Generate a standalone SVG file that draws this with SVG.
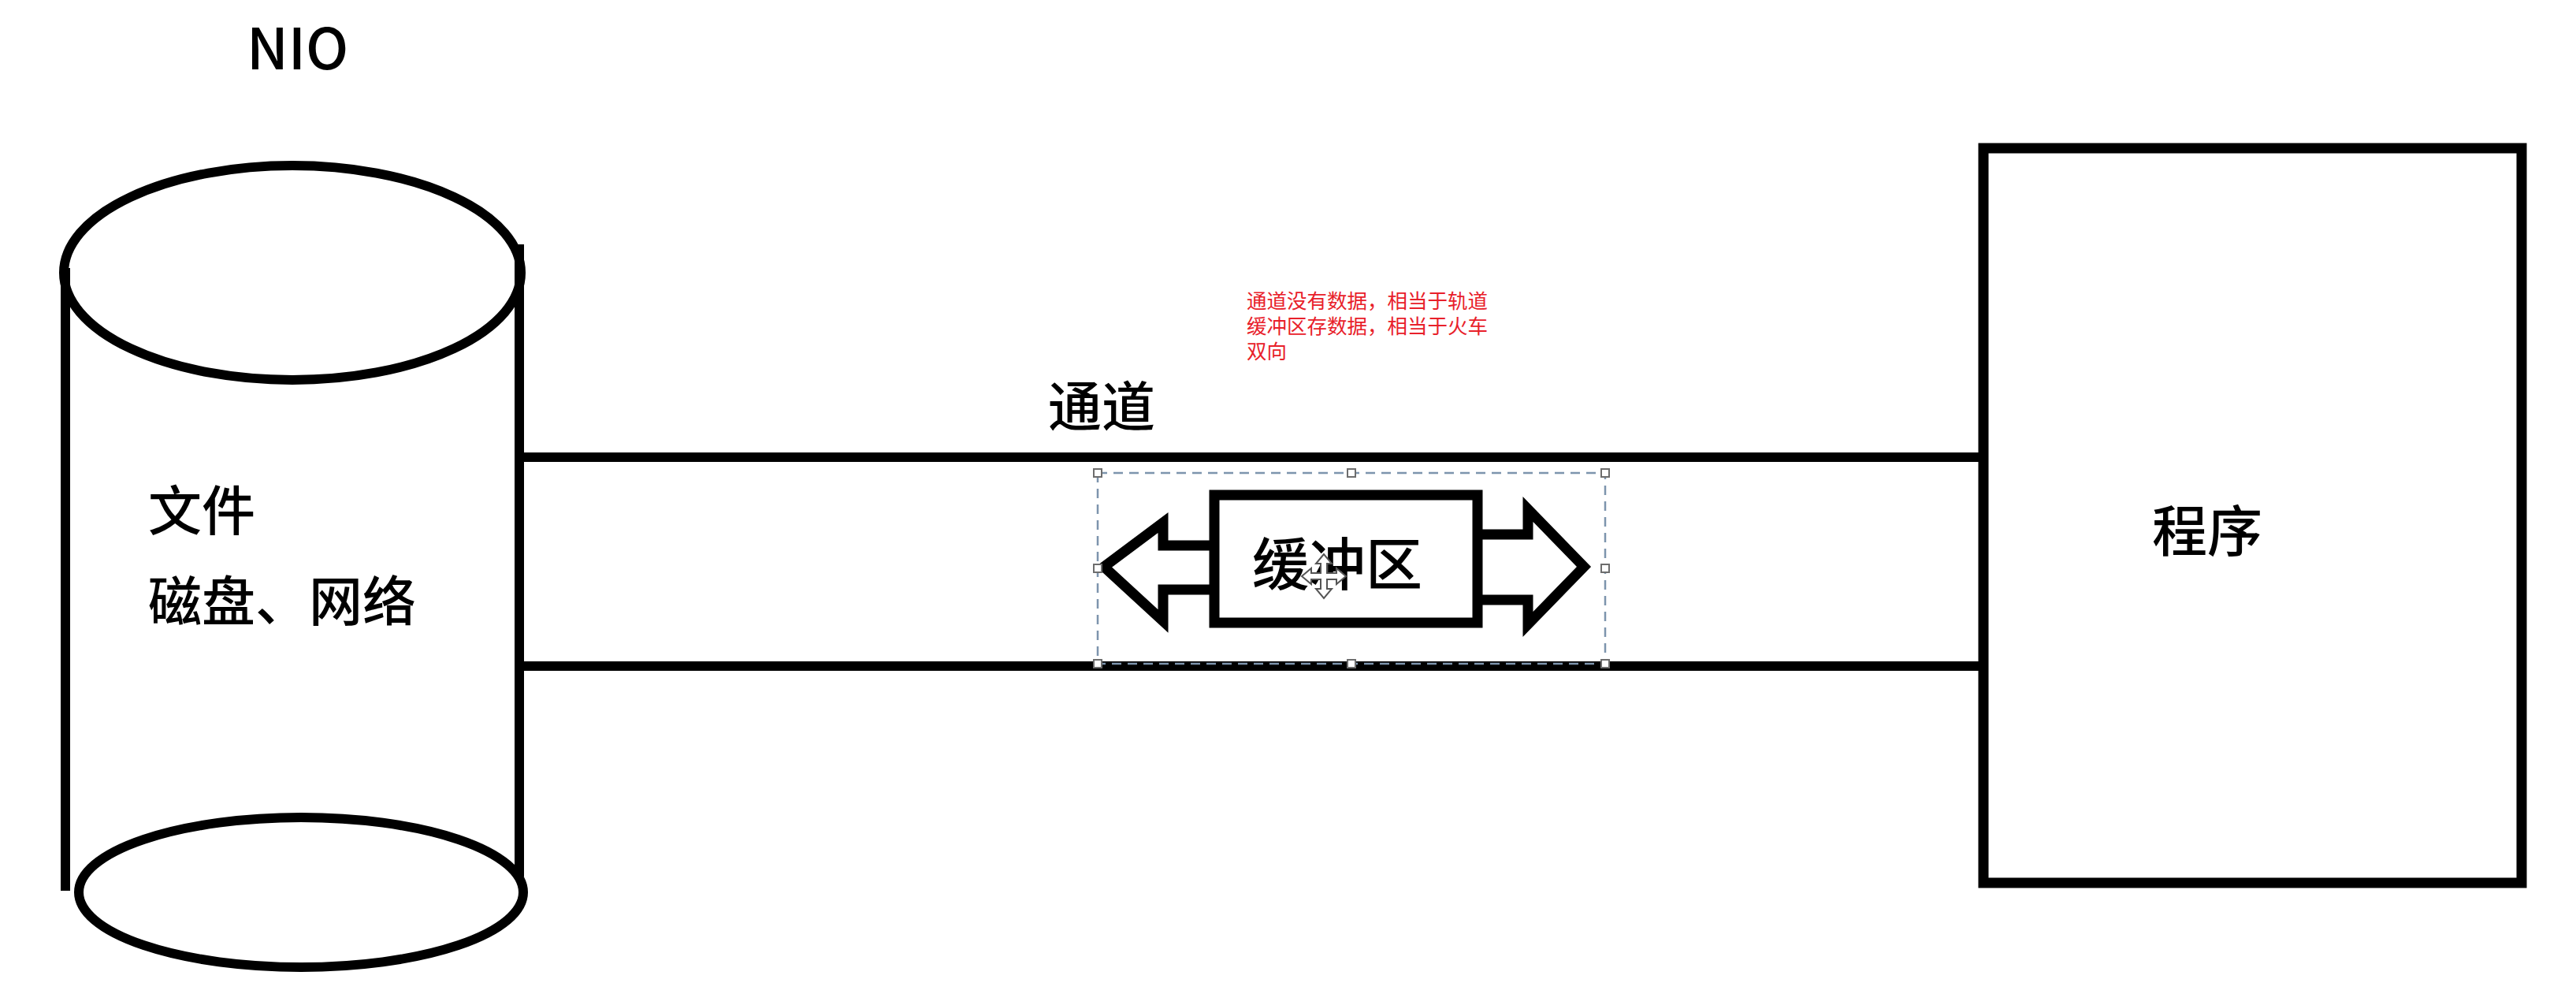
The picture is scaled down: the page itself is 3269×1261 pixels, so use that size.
<svg xmlns="http://www.w3.org/2000/svg" width="3269" height="1261" viewBox="0 0 3269 1261">
<style>
.ln{fill:none;stroke:#000;stroke-width:12;stroke-linecap:butt}
.shape{fill:#fff;stroke:#000;stroke-width:13;stroke-linejoin:miter}
.t{font-family:"Noto Sans CJK SC","Noto Sans",sans-serif;fill:#000;font-weight:500}
.red{font-family:"Noto Sans CJK SC",sans-serif;fill:#e8202a;font-size:25.5px}
.sel{fill:none;stroke:#7d94ad;stroke-width:2.5;stroke-dasharray:12 8}
.h{fill:#fff;stroke:#6d6d6d;stroke-width:2}
</style>
<rect width="3269" height="1261" fill="#fff"/>
<text class="t" x="313" y="88" font-size="72" font-weight="400">NIO</text>
<g id="connectors">
<line class="ln" x1="659" y1="580" x2="2517" y2="580"/>
<line class="ln" x1="659" y1="845" x2="2517" y2="845"/>
</g>
<g id="storage">
<ellipse class="ln" cx="371" cy="346" rx="290" ry="136"/>
<line class="ln" x1="83" y1="340" x2="83" y2="1130"/>
<line class="ln" x1="659" y1="310" x2="659" y2="1112"/>
<ellipse class="ln" cx="382" cy="1132" rx="282" ry="95"/>
<text class="t" x="188" y="673" font-size="68">文件</text>
<text class="t" x="188" y="788" font-size="68">磁盘、网络</text>
</g>
<g id="channel-label">
<text class="t" x="1330" y="541" font-size="68">通道</text>
</g>
<g id="note">
<text class="red" x="1582" y="391">通道没有数据，相当于轨道</text>
<text class="red" x="1582" y="423">缓冲区存数据，相当于火车</text>
<text class="red" x="1582" y="455">双向</text>
</g>
<g id="buffer">
<rect class="sel" x="1393" y="600" width="644" height="242"/>
<polygon class="shape" points="1544,692 1476,692 1476,663 1401,719 1476,788 1476,748 1544,748"/>
<polygon class="shape" points="1872,678 1939,678 1939,646 2010,719 1939,792 1939,761 1872,761"/>
<rect class="shape" x="1541" y="628" width="334" height="162"/>
<text class="t" x="1589" y="742" font-size="72">缓冲区</text>
<g fill="#fff" stroke="#555" stroke-width="2">
<polygon points="1680,703 1670,715 1676,715 1676,727 1664,727 1664,721 1652,731 1664,741 1664,735 1676,735 1676,747 1670,747 1680,759 1690,747 1684,747 1684,735 1696,735 1696,741 1708,731 1696,721 1696,727 1684,727 1684,715 1690,715"/>
</g>
<rect class="h" x="1388" y="595" width="10" height="10"/>
<rect class="h" x="1710" y="595" width="10" height="10"/>
<rect class="h" x="2032" y="595" width="10" height="10"/>
<rect class="h" x="1388" y="716" width="10" height="10"/>
<rect class="h" x="2032" y="716" width="10" height="10"/>
<rect class="h" x="1388" y="837" width="10" height="10"/>
<rect class="h" x="1710" y="837" width="10" height="10"/>
<rect class="h" x="2032" y="837" width="10" height="10"/>
</g>
<g id="program">
<rect x="2517" y="188" width="683" height="932" fill="none" stroke="#000" stroke-width="13"/>
<text class="t" x="2731" y="700" font-size="70">程序</text>
</g>
</svg>
